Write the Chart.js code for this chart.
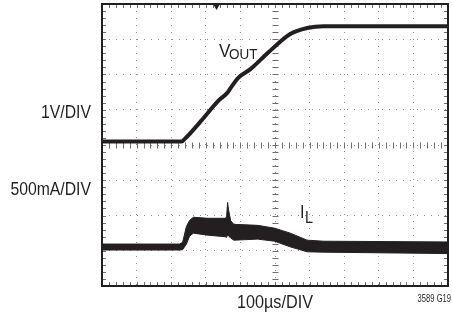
<!DOCTYPE html>
<html>
<head>
<meta charset="utf-8">
<script src="https://cdn.jsdelivr.net/npm/chart.js@4"></script>
<style>
  html, body { margin: 0; padding: 0; background: #fff; }
  #wrap { width: 452px; height: 313px; }
</style>
</head>
<body>
<div id="wrap"><canvas id="scope" width="452" height="313"></canvas></div>
<script>
// time axis: 100µs/DIV, 10 divisions; vertical axis in divisions (0..8)
const voutTime = [0, 230, 240, 287, 336, 362, 372, 393, 430, 479, 544, 593, 641, 1000];
const voutDiv  = [4.10, 4.10, 4.18, 4.69, 5.25, 5.48, 5.62, 5.90, 6.16, 6.61, 7.15, 7.32, 7.37, 7.37];

const ilTime  = [0, 224, 233, 244, 253, 264, 307, 355, 360, 363, 366, 372, 381, 450, 499, 544, 593, 641, 1000];
const ilUpper = [1.19, 1.19, 1.24, 1.69, 1.86, 1.95, 1.92, 1.92, 1.95, 2.37, 2.15, 1.85, 1.75, 1.72, 1.64, 1.50, 1.30, 1.27, 1.25];
const ilLower = [1.02, 1.02, 1.03, 1.19, 1.41, 1.50, 1.44, 1.40, 1.38, 1.45, 1.42, 1.36, 1.30, 1.33, 1.27, 1.11, 0.97, 0.96, 0.92];

const triggerTime = [331];
const triggerLevel = [7.93];

const ink = "#231f20";
const pts = (xs, ys) => xs.map((x, i) => ({ x, y: ys[i] }));

const drawText = (ctx, text, x, y, size, sx, align) => {
    ctx.save();
    ctx.translate(x, y);
    ctx.scale(sx, 1);
    ctx.font = size + "px 'Liberation Sans', Arial, sans-serif";
    ctx.textAlign = align || "left";
    ctx.textBaseline = "alphabetic";
    ctx.fillStyle = ink;
    ctx.fillText(text, 0, 0);
    ctx.restore();
};

// frame, minor ticks on the border and the centre cross, and labels
const scopeDecor = {
    id: "scopeDecor",
    beforeDatasetsDraw(chart) {
        const { ctx, chartArea: a, scales } = chart;
        const xs = scales.x, ys = scales.y;
        ctx.save();
        ctx.strokeStyle = "#6d6d6d";
        ctx.lineWidth = 1;
        const cx = Math.round(xs.getPixelForValue(500)) + 0.5;
        const cy = Math.round(ys.getPixelForValue(4)) + 0.5;
        ctx.beginPath();
        for (let t = 0; t <= 1000; t += 20) {
            const px = Math.round(xs.getPixelForValue(t)) + 0.5;
            ctx.moveTo(px, cy - 3); ctx.lineTo(px, cy + 3);
            ctx.moveTo(px, a.top); ctx.lineTo(px, a.top + 4);
            ctx.moveTo(px, a.bottom); ctx.lineTo(px, a.bottom - 4);
        }
        for (let v = 0; v <= 8; v += 0.2) {
            const py = Math.round(ys.getPixelForValue(v)) + 0.5;
            ctx.moveTo(cx - 3, py); ctx.lineTo(cx + 3, py);
            ctx.moveTo(a.left, py); ctx.lineTo(a.left + 4, py);
            ctx.moveTo(a.right, py); ctx.lineTo(a.right - 4, py);
        }
        ctx.stroke();
        ctx.strokeStyle = ink;
        ctx.lineWidth = 2;
        ctx.strokeRect(a.left, a.top, a.right - a.left, a.bottom - a.top);
        ctx.restore();
    },
    afterDraw(chart) {
        const { ctx } = chart;
        drawText(ctx, "1V/DIV", 91, 118, 17.5, 0.9, "right");
        drawText(ctx, "500mA/DIV", 91, 195, 17.5, 0.9, "right");
        drawText(ctx, "V", 219, 57, 19, 0.9);
        drawText(ctx, "OUT", 229, 59, 15, 0.9);
        drawText(ctx, "I", 300, 218, 18, 0.9);
        drawText(ctx, "L", 305, 223, 16, 0.9);
        drawText(ctx, "100µs/DIV", 237, 308, 18, 0.9);
        drawText(ctx, "3589 G19", 451, 302, 10, 0.76, "right");
    },
};

new Chart(document.getElementById("scope"), {
    type: "line",
    data: {
        datasets: [
            {
                label: "VOUT",
                data: pts(voutTime, voutDiv),
                borderColor: ink,
                borderWidth: 4,
                pointRadius: 0,
                cubicInterpolationMode: "monotone",
                fill: false,
            },
            {
                label: "IL max",
                data: pts(ilTime, ilUpper),
                borderColor: ink,
                backgroundColor: ink,
                borderWidth: 1,
                pointRadius: 0,
                tension: 0,
                fill: "+1",
            },
            {
                label: "IL min",
                data: pts(ilTime, ilLower),
                borderColor: ink,
                borderWidth: 1,
                pointRadius: 0,
                tension: 0,
                fill: false,
            },
            {
                label: "trigger",
                data: pts(triggerTime, triggerLevel),
                showLine: false,
                pointStyle: "triangle",
                rotation: 180,
                pointRadius: 3.5,
                backgroundColor: ink,
                borderColor: ink,
                borderWidth: 0,
            },
        ],
    },
    options: {
        responsive: false,
        animation: false,
        layout: { padding: { left: 102, right: 1, top: 3, bottom: 27 } },
        plugins: {
            legend: { display: false },
            tooltip: { enabled: false },
        },
        scales: {
            x: {
                type: "linear",
                min: 0,
                max: 1000,
                ticks: { display: false, stepSize: 100 },
                grid: { color: "#8c8c8c", lineWidth: 1, drawTicks: false },
                border: { display: false, dash: [1, 6] },
            },
            y: {
                min: 0,
                max: 8,
                ticks: { display: false, stepSize: 1 },
                grid: { color: "#8c8c8c", lineWidth: 1, drawTicks: false },
                border: { display: false, dash: [1, 6] },
            },
        },
    },
    plugins: [scopeDecor],
});
</script>
</body>
</html>
